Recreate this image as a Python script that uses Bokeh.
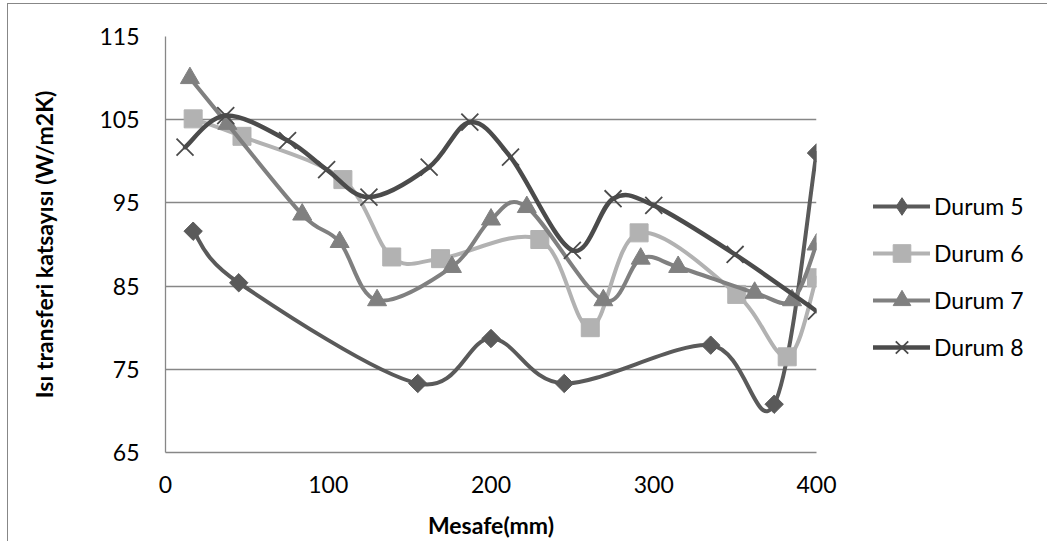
import numpy as np
from bokeh.plotting import figure
from bokeh.models import Range1d, Legend, LegendItem, FixedTicker
from bokeh.embed import file_html
from bokeh.resources import INLINE

# ---- data ----
series_names = ["Durum 5", "Durum 6", "Durum 7", "Durum 8"]

x5 = [17, 45, 155, 200, 245, 335, 374, 400]
y5 = [91.6, 85.4, 73.3, 78.7, 73.3, 77.9, 70.8, 101.0]

x6 = [17, 47, 109, 139, 169, 230, 261, 291, 351, 382, 400]
y6 = [105.1, 103.0, 97.8, 88.5, 88.3, 90.6, 80.0, 91.4, 84.0, 76.5, 86.0]

x7 = [15, 38, 84, 107, 130, 176, 200, 222, 269, 292, 315, 362, 385, 400]
y7 = [110.0, 104.5, 93.6, 90.3, 83.3, 87.3, 93.0, 94.5, 83.3, 88.3, 87.3, 84.2, 83.3, 90.0]

x8 = [12, 37, 75, 99, 125, 162, 187, 212, 250, 275, 300, 350, 400]
y8 = [101.7, 105.5, 102.5, 99.0, 95.7, 99.3, 104.7, 100.5, 89.3, 95.5, 94.7, 88.8, 82.0]

x_ticks = [0, 100, 200, 300, 400]
y_ticks = [65, 75, 85, 95, 105, 115]

FONT = "Lato"
NAN = float("nan")


def smooth_segments(xs, ys):
    """Bezier control points for a Catmull-Rom style smoothed line (Excel 'smoothed line')."""
    x = np.asarray(xs, float)
    y = np.asarray(ys, float)
    n = len(x)
    xp = np.concatenate([[x[0]], x, [x[-1]]])
    yp = np.concatenate([[y[0]], y, [y[-1]]])
    cx0 = x[:-1] + (xp[2:n + 1] - xp[0:n - 1]) / 6.0
    cy0 = y[:-1] + (yp[2:n + 1] - yp[0:n - 1]) / 6.0
    cx1 = x[1:] - (xp[3:n + 2] - xp[1:n]) / 6.0
    cy1 = y[1:] - (yp[3:n + 2] - yp[1:n]) / 6.0
    return dict(x0=x[:-1], y0=y[:-1], x1=x[1:], y1=y[1:],
                cx0=cx0, cy0=cy0, cx1=cx1, cy1=cy1)


p = figure(frame_width=651, frame_height=416,
           x_range=Range1d(0, 400), y_range=Range1d(65, 115),
           output_backend="svg", toolbar_location=None,
           min_border_left=157, min_border_right=225,
           min_border_top=32, min_border_bottom=86)
p.styles = {"margin-left": "7px", "margin-top": "3px",
            "border-left": "1px solid #878787",
            "border-top": "1px solid #878787"}
p.outline_line_color = None
p.background_fill_color = "white"
p.border_fill_color = "white"

p.xgrid.grid_line_color = None
p.ygrid.grid_line_color = "#878787"
p.ygrid.grid_line_width = 1.3

p.xaxis.ticker = FixedTicker(ticks=x_ticks)
p.yaxis.ticker = FixedTicker(ticks=y_ticks)
for ax in (p.xaxis[0], p.yaxis[0]):
    ax.axis_line_color = "#878787"
    ax.axis_line_width = 1.3
    ax.major_tick_line_color = None
    ax.minor_tick_line_color = None
    ax.major_tick_out = 0
    ax.major_tick_in = 0
    ax.major_label_text_font = FONT
    ax.major_label_text_font_size = "23px"
    ax.major_label_text_color = "black"
    ax.axis_label_text_font = FONT
    ax.axis_label_text_font_style = "bold"
    ax.axis_label_text_font_size = "23px"
    ax.axis_label_text_color = "black"

p.xaxis.axis_label = "Mesafe(mm)"
p.yaxis.axis_label = "Isı transferi katsayısı (W/m2K)"
p.xaxis.major_label_standoff = 23
p.yaxis.major_label_standoff = 26
p.xaxis.axis_label_standoff = 15
p.yaxis.axis_label_standoff = 38

colors = ["#5a5a5a", "#b2b2b2", "#808080", "#4b4b4b"]
widths = [4, 4, 4, 4.5]
data = [(x5, y5), (x6, y6), (x7, y7), (x8, y8)]

items = []
for i, (xs, ys) in enumerate(data):
    c = colors[i]
    seg = smooth_segments(xs, ys)
    p.bezier(x0="x0", y0="y0", x1="x1", y1="y1", cx0="cx0", cy0="cy0",
             cx1="cx1", cy1="cy1", source=seg, line_color=c,
             line_width=widths[i], line_cap="round")
    # legend-only line sample (not visible in the plot: NaN coordinates)
    leg_line = p.line(x=[NAN, NAN], y=[NAN, NAN], line_color=c,
                      line_width=widths[i], line_cap="round")
    if i == 0:
        p.scatter(xs, ys, marker="square", angle=np.pi / 4, size=13,
                  fill_color=c, line_color=c)
        m = p.scatter([NAN], [NAN], marker="diamond", size=19,
                      fill_color=c, line_color=c)
    elif i == 1:
        m = p.scatter(xs, ys, marker="square", size=18,
                      fill_color=c, line_color=c)
    elif i == 2:
        m = p.scatter(xs, ys, marker="triangle", size=19,
                      fill_color=c, line_color=c)
    else:
        m = p.scatter(xs, ys, marker="x", size=24,
                      line_color=c, line_width=1.8)
    items.append(LegendItem(label=series_names[i], renderers=[leg_line, m]))

legend = Legend(items=items, location=(57, 83))
legend.label_text_font = FONT
legend.label_text_font_size = "23px"
legend.label_text_color = "black"
legend.glyph_width = 57
legend.glyph_height = 44
legend.label_height = 44
legend.label_standoff = 4
legend.spacing = 3
legend.padding = 0
legend.margin = 0
legend.border_line_color = None
legend.background_fill_alpha = 0
p.add_layout(legend, "right")

open("out.html", "w").write(file_html(p, INLINE))
